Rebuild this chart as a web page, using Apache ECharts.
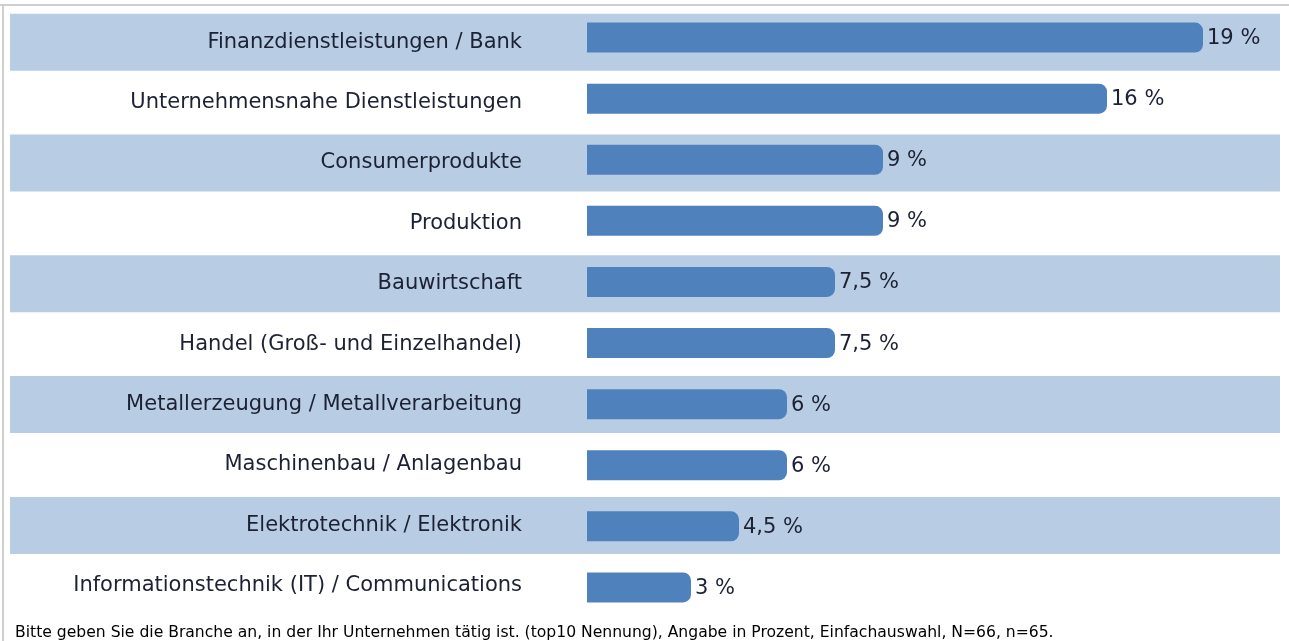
<!DOCTYPE html>
<html>
<head>
<meta charset="utf-8">
<script src="https://cdn.jsdelivr.net/npm/echarts@6/dist/echarts.min.js"></script>
<style>
  html, body { margin: 0; padding: 0; background: #fff; }
  #chart { width: 1289px; height: 641px; }
</style>
</head>
<body>
<div id="chart"></div>
<script>
// Branchen (top10), Angaben in Prozent
var categories = [
    'Finanzdienstleistungen / Bank',
    'Unternehmensnahe Dienstleistungen',
    'Consumerprodukte',
    'Produktion',
    'Bauwirtschaft',
    'Handel (Groß- und Einzelhandel)',
    'Metallerzeugung / Metallverarbeitung',
    'Maschinenbau / Anlagenbau',
    'Elektrotechnik / Elektronik',
    'Informationstechnik (IT) / Communications'
];
var values = [19, 16, 9, 9, 7.5, 7.5, 6, 6, 4.5, 3];
// alternating row shading, 1 = shaded
var bands = [1, 0, 1, 0, 1, 0, 1, 0, 1, 0];
var footnote = 'Bitte geben Sie die Branche an, in der Ihr Unternehmen tätig ist. (top10 Nennung), Angabe in Prozent, Einfachauswahl, N=66, n=65.';

var FONT = 'DejaVu Sans, Liberation Sans, Arial, sans-serif';
var BAR = '#4f81bd';
var TXT = '#1c2133';

function pct(v) {
    return String(v).replace('.', ',') + ' %';
}

var chart = echarts.init(document.getElementById('chart'));

var option = {
    animation: false,
    backgroundColor: '#fff',
    title: {
        text: footnote,
        left: 10,
        top: 620,
        textStyle: { fontFamily: FONT, fontSize: 15.6, fontWeight: 'normal', color: '#000' }
    },
    grid: [
        { left: 10, right: 9, top: 12, height: 604 },   // rows / labels
        { left: 595, right: 54, top: 7, height: 611 }   // bars
    ],
    xAxis: [
        { gridIndex: 0, type: 'value', min: 0, max: 1, show: false },
        { gridIndex: 1, type: 'value', min: 0, max: 20, show: false }
    ],
    yAxis: [
        {
            gridIndex: 0, type: 'category', data: categories, inverse: true,
            z: 10,
            axisLine: { show: false }, axisTick: { show: false },
            axisLabel: {
                inside: true,
                margin: 512,
                align: 'right',
                fontFamily: FONT,
                fontSize: 21,
                color: TXT
            }
        },
        {
            gridIndex: 1, type: 'category', data: categories, inverse: true,
            show: false
        }
    ],
    series: [
        {
            type: 'bar',
            xAxisIndex: 0, yAxisIndex: 0,
            data: bands,
            barWidth: 57,
            silent: true,
            itemStyle: { color: '#b8cce4' },
            z: 1
        },
        {
            type: 'custom',
            xAxisIndex: 1, yAxisIndex: 1,
            data: values.map(function (v, i) { return [v, i]; }),
            z: 3,
            renderItem: function (params, api) {
                var v = api.value(0);
                var start = api.coord([0, api.value(1)]);
                var end = api.coord([v, api.value(1)]);
                var h = 30;
                return {
                    type: 'group',
                    children: [
                        {
                            type: 'rect',
                            shape: { x: start[0] - 8, y: end[1] - h / 2, width: end[0] - start[0] + 8, height: h, r: [0, 8, 8, 0] },
                            style: { fill: BAR }
                        },
                        {
                            type: 'text',
                            x: end[0] + 4,
                            y: end[1] + 1,
                            style: {
                                text: pct(v),
                                fill: TXT,
                                font: '21px ' + FONT,
                                verticalAlign: 'middle',
                                align: 'left'
                            }
                        }
                    ]
                };
            }
        }
    ],
    graphic: [
        { type: 'line', shape: { x1: 0, y1: 5, x2: 1289, y2: 5 }, style: { stroke: '#cfcfcf', lineWidth: 2 } },
        { type: 'line', shape: { x1: 3, y1: 5, x2: 3, y2: 641 }, style: { stroke: '#cfcfcf', lineWidth: 2 } }
    ]
};

chart.setOption(option);
</script>
</body>
</html>
